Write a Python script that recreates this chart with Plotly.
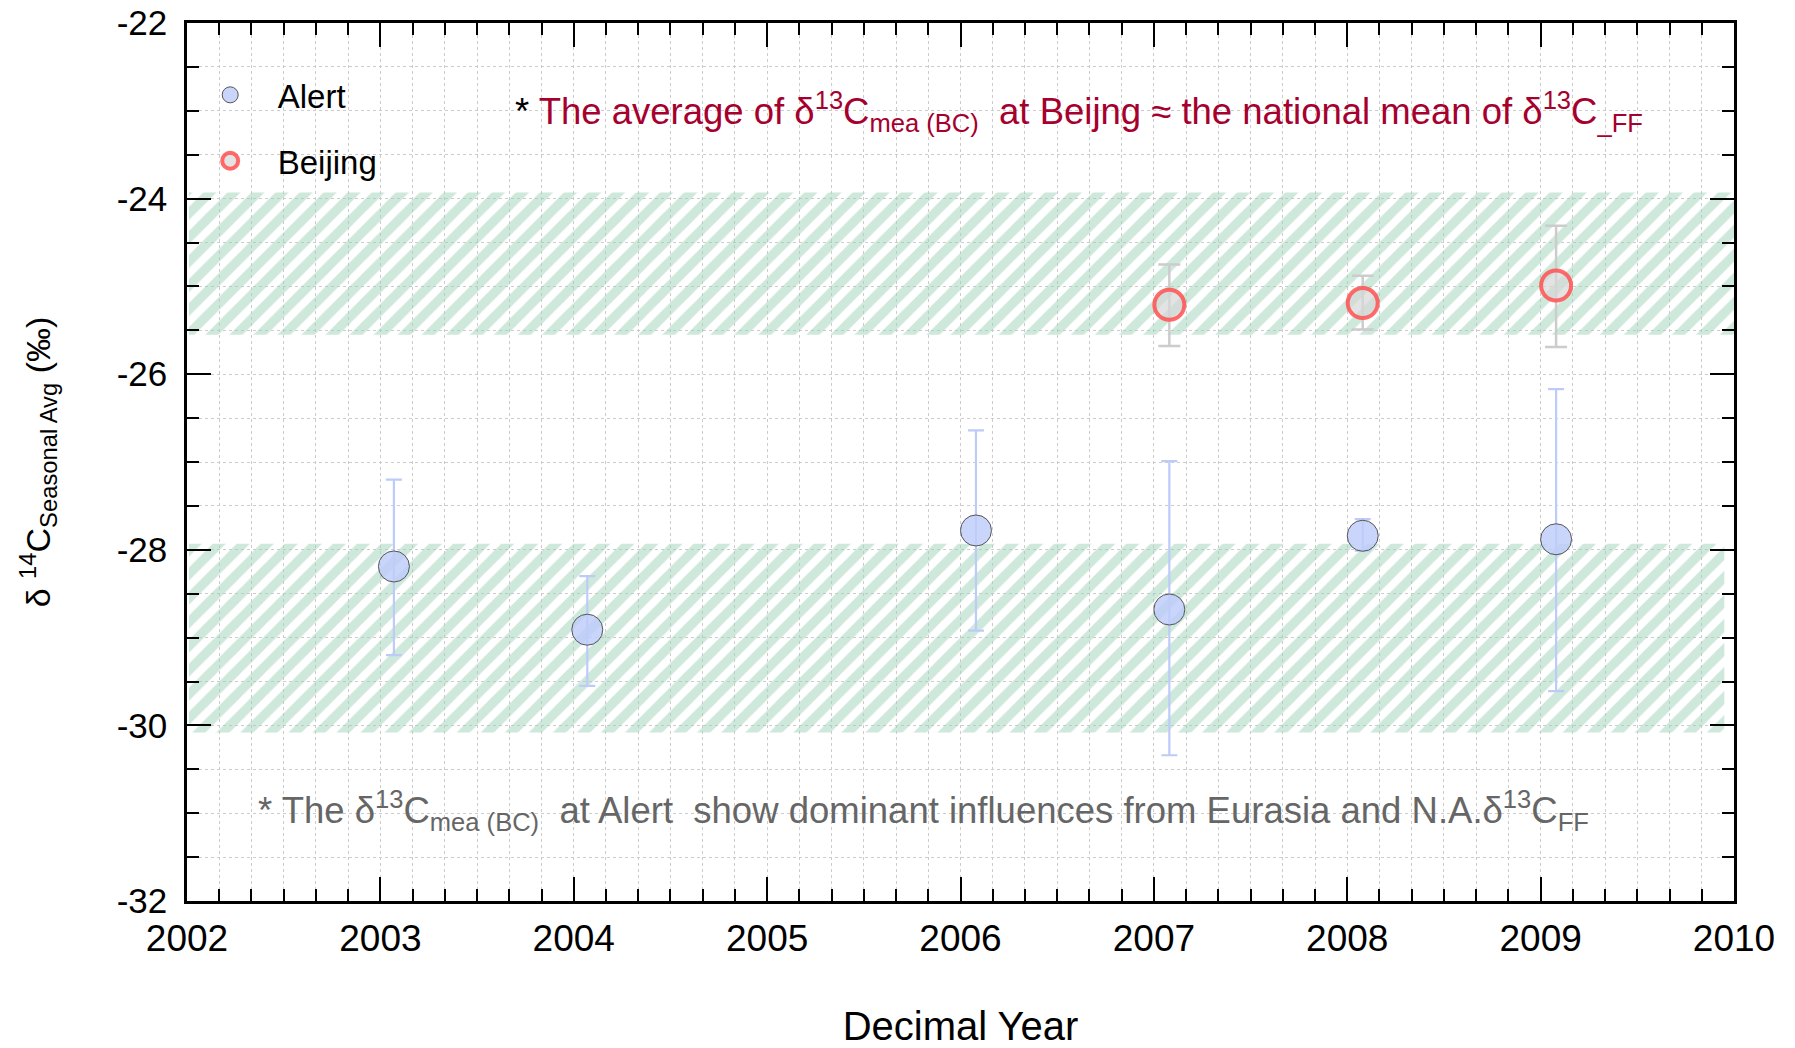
import plotly.graph_objects as go

# ---- data ----
alert_year = [2003.07, 2004.07, 2006.08, 2007.08, 2008.08, 2009.08]
alert_val = [-28.19, -28.91, -27.78, -28.68, -27.84, -27.88]
alert_err_plus = [0.99, 0.61, 1.14, 1.69, 0.19, 1.71]
alert_err_minus = [1.01, 0.64, 1.14, 1.66, 0.17, 1.73]

beijing_year = [2007.08, 2008.08, 2009.08]
beijing_val = [-25.21, -25.19, -24.99]
beijing_err_plus = [0.46, 0.31, 0.68]
beijing_err_minus = [0.47, 0.30, 0.70]

# hatched ranges: (x start, x end, y low, y high)
upper_band = (2002.01, 2010.03, -25.55, -23.93)
lower_band = (2002.01, 2009.95, -30.08, -27.93)

x_ticks = [2002, 2003, 2004, 2005, 2006, 2007, 2008, 2009, 2010]
y_ticks = [-32, -30, -28, -26, -24, -22]

FONT = "Liberation Sans, Arial, sans-serif"
HATCH = "#9ed1b7"
NB = "\u00a0"

fig = go.Figure()

for (x0, x1, y0, y1) in (upper_band, lower_band):
    fig.add_trace(go.Scatter(
        x=[x0, x1, x1, x0, x0], y=[y0, y0, y1, y1, y0],
        mode="lines", fill="toself", line=dict(width=0),
        fillcolor="rgba(255,255,255,0)",
        fillpattern=dict(shape="/", fgcolor=HATCH, bgcolor="rgba(255,255,255,0)",
                         size=17, solidity=0.55),
        showlegend=False, hoverinfo="skip"))

fig.add_trace(go.Scatter(
    x=alert_year, y=alert_val, mode="markers", name=NB * 3 + "Alert",
    legendgroup="a",
    marker=dict(size=31, color="rgba(190,204,250,0.82)",
                line=dict(color="#555555", width=1)),
    error_y=dict(type="data", array=alert_err_plus, arrayminus=alert_err_minus,
                 color="#bccbf8", thickness=2.2, width=8)))

fig.add_trace(go.Scatter(
    x=beijing_year, y=beijing_val, mode="markers", name=NB * 3 + "Beijing",
    legendgroup="b",
    marker=dict(size=30, color="rgba(215,215,215,0.7)",
                line=dict(color="rgba(255,80,80,0.85)", width=4)),
    error_y=dict(type="data", array=beijing_err_plus, arrayminus=beijing_err_minus,
                 color="#cccccc", thickness=2.5, width=11)))

axis_common = dict(
    showline=True, linecolor="black", linewidth=2.5, mirror="ticks",
    ticks="inside", tickcolor="black", tickwidth=2, ticklen=24,
    showgrid=True, gridcolor="#cccccc", griddash="dot", gridwidth=1,
    zeroline=False,
)

fig.update_xaxes(
    **axis_common, range=[2002, 2010], tickvals=x_ticks,
    ticktext=[str(v) for v in x_ticks], ticklabelstandoff=3,
    tickfont=dict(family=FONT, size=37, color="black"),
    minor=dict(dtick=1/6, tick0=2002, ticks="inside", ticklen=12, tickwidth=2,
               tickcolor="black", showgrid=True, gridcolor="#cccccc",
               griddash="dot", gridwidth=1),
    title=dict(text="Decimal Year", font=dict(family=FONT, size=40, color="black"),
               standoff=68),
)
fig.update_yaxes(
    **axis_common, range=[-32, -22], tickvals=y_ticks,
    ticktext=[str(v) for v in y_ticks], ticklabelstandoff=10,
    tickfont=dict(family=FONT, size=35, color="black"),
    minor=dict(dtick=0.5, tick0=-32, ticks="inside", ticklen=12, tickwidth=2,
               tickcolor="black", showgrid=True, gridcolor="#cccccc",
               griddash="dot", gridwidth=1),
    title=dict(text="δ <sup>14</sup>C<sub>Seasonal Avg</sub> (‰)",
               font=dict(family=FONT, size=34, color="black"), standoff=56),
)

fig.add_annotation(
    xref="paper", yref="paper", x=(513 - 187) / 1547, y=(901 - 112) / 878,
    xanchor="left", yanchor="middle", showarrow=False,
    text="<span style='color:black'>*</span> The average of δ<sup>13</sup>C<sub>mea (BC)</sub>" + NB + " at Beijng ≈ the national mean of δ<sup>13</sup>C<sub>_FF</sub>",
    font=dict(family=FONT, size=36.5, color="#a6002e"))

fig.add_annotation(
    xref="paper", yref="paper", x=(256 - 187) / 1547, y=(901 - 810) / 878,
    xanchor="left", yanchor="middle", showarrow=False,
    text="* The δ<sup>13</sup>C<sub>mea (BC)</sub>" + NB + " at Alert" + NB + " show dominant influences from Eurasia and N.A.δ<sup>13</sup>C<sub>FF</sub>",
    font=dict(family=FONT, size=36.5, color="#666666"))

fig.update_layout(
    width=1795, height=1048,
    margin=dict(l=187, r=61, t=23, b=147, autoexpand=False),
    plot_bgcolor="white", paper_bgcolor="white",
    legend=dict(x=0.015, y=0.95, xanchor="left", yanchor="top",
                font=dict(family=FONT, size=33, color="black"),
                tracegroupgap=20, bgcolor="rgba(255,255,255,0)",
                itemsizing="trace"),
)

fig.write_html("out.html")
